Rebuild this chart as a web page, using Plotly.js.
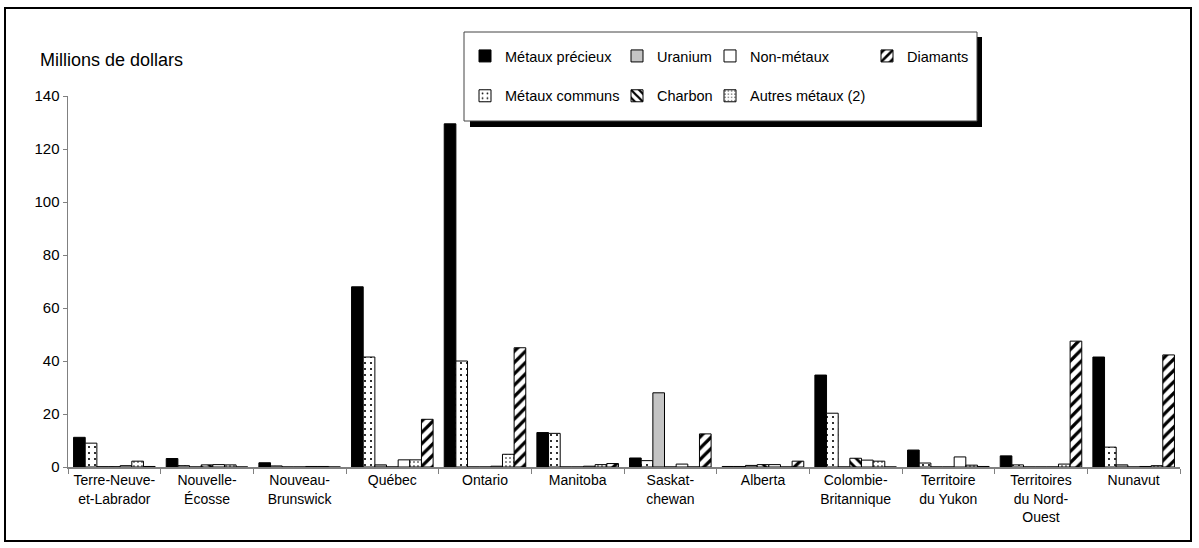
<!DOCTYPE html>
<html>
<head>
<meta charset="utf-8">
<script src="https://cdn.plot.ly/plotly-3.0.1.min.js"></script>
<style>html,body{margin:0;padding:0;background:#fff;}#chart{width:1199px;height:548px;}</style>
</head>
<body>
<div id="chart"></div>
<script>
const categories = ["Terre-Neuve-<br>et-Labrador","Nouvelle-<br>Écosse","Nouveau-<br>Brunswick","Québec","Ontario","Manitoba","Saskat-<br>chewan","Alberta","Colombie-<br>Britannique","Territoire<br>du Yukon","Territoires<br>du Nord-<br>Ouest","Nunavut"];
const metauxPrecieux = [11.2, 3.2, 1.6, 68, 129.5, 13, 3.4, 0.2, 34.7, 6.4, 4.2, 41.5];
const metauxCommuns  = [9, 0.5, 0.4, 41.5, 40, 12.7, 2.4, 0.2, 20.3, 1.5, 0.8, 7.5];
const uranium        = [0.1, 0, 0, 0.8, 0, 0, 28, 0.6, 0, 0, 0, 0.8];
const charbon        = [0.1, 0.8, 0, 0, 0, 0, 0, 0.9, 3.3, 0, 0, 0];
const nonMetaux      = [0.5, 0.9, 0.2, 2.7, 0.3, 0.3, 1.1, 0.9, 2.6, 3.8, 0, 0.2];
const autresMetaux   = [2.2, 0.8, 0.2, 2.7, 4.8, 0.9, 0, 0, 2.2, 0.7, 1.1, 0.5];
const diamants       = [0.2, 0, 0, 18, 45, 1.3, 12.5, 2.2, 0, 0.2, 47.5, 42.3];
const yTicks = [0, 20, 40, 60, 80, 100, 120, 140];

const FONT = "Liberation Sans, Arial, sans-serif";
const line = {color: "black", width: 1};
function bar(name, y, marker, legend) {
  return {type: "bar", name: name, x: categories, y: y, legend: legend, legendgroup: name,
          marker: Object.assign({line: line}, marker), hoverinfo: "y+name"};
}
const traces = [
  bar("Métaux précieux", metauxPrecieux, {color: "black"}, "legend"),
  bar("Métaux communs", metauxCommuns, {color: "white", pattern: {shape: ".", fgcolor: "black", bgcolor: "white", size: 6, solidity: 0.1, fillmode: "replace"}}, "legend"),
  bar("Uranium", uranium, {color: "#c4c4c4"}, "legend2"),
  bar("Charbon", charbon, {color: "white", pattern: {shape: "\\", fgcolor: "black", bgcolor: "white", size: 7, solidity: 0.4, fillmode: "replace"}}, "legend2"),
  bar("Non-métaux", nonMetaux, {color: "white"}, "legend3"),
  bar("Autres métaux (2)", autresMetaux, {color: "white", pattern: {shape: ".", fgcolor: "black", bgcolor: "white", size: 4, solidity: 0.12, fillmode: "replace"}}, "legend3"),
  bar("Diamants", diamants, {color: "white", pattern: {shape: "/", fgcolor: "black", bgcolor: "white", size: 8, solidity: 0.4, fillmode: "replace"}}, "legend4")
];

function px2x(px) { return (px - 68) / 1112; }
function px2y(py) { return (467 - py) / 371; }

function leg(xpx) {
  return {x: px2x(xpx), y: px2y(40), xanchor: "left", yanchor: "top", orientation: "v",
          bgcolor: "rgba(0,0,0,0)", borderwidth: 0, tracegroupgap: 18,
          font: {family: FONT, size: 14.5, color: "black"}};
}

const layout = {
  width: 1199, height: 548,
  margin: {l: 68, r: 19, t: 96, b: 81},
  paper_bgcolor: "white", plot_bgcolor: "white",
  font: {family: FONT, color: "black"},
  barmode: "group", bargap: 0.12, bargroupgap: 0,
  showlegend: true,
  legend: leg(465),
  legend2: leg(617),
  legend3: leg(710),
  legend4: leg(867),
  xaxis: {type: "category", tickson: "boundaries", ticks: "outside", ticklen: 5, tickcolor: "#808080",
          showline: true, linecolor: "#808080", linewidth: 1.5, showgrid: false, zeroline: false,
          tickfont: {family: FONT, size: 14, color: "black"}, fixedrange: true},
  yaxis: {range: [0, 140], tickvals: yTicks, ticks: "outside", ticklen: 4, tickcolor: "#808080",
          showline: true, linecolor: "#808080", linewidth: 1.5, showgrid: false, zeroline: false,
          tickfont: {family: FONT, size: 15, color: "black"}, fixedrange: true},
  annotations: [
    {text: "Millions de dollars", xref: "paper", yref: "paper", x: px2x(38), y: px2y(60),
     xanchor: "left", yanchor: "middle", showarrow: false, font: {family: FONT, size: 18, color: "black"}}
  ],
  shapes: [
    {type: "rect", xref: "paper", yref: "paper", x0: px2x(5), x1: px2x(1191), y0: px2y(541), y1: px2y(8),
     line: {color: "black", width: 2}, fillcolor: "rgba(0,0,0,0)", layer: "below"},
    {type: "rect", xref: "paper", yref: "paper", x0: px2x(470), x1: px2x(982), y0: px2y(127), y1: px2y(37),
     line: {width: 0}, fillcolor: "black", layer: "below"},
    {type: "rect", xref: "paper", yref: "paper", x0: px2x(464), x1: px2x(977), y0: px2y(121), y1: px2y(32),
     line: {color: "#444", width: 1}, fillcolor: "white", layer: "below"}
  ]
};

Plotly.newPlot("chart", traces, layout, {displayModeBar: false, staticPlot: true});
</script>
</body>
</html>
